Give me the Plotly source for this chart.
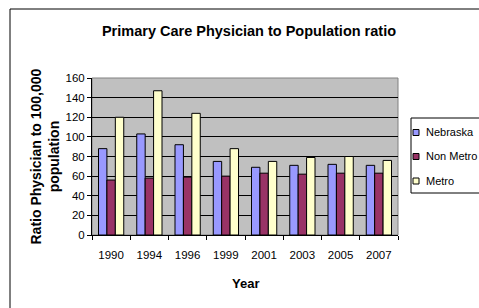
import plotly.graph_objects as go

years = ["1990", "1994", "1996", "1999", "2001", "2003", "2005", "2007"]
nebraska = [88, 103, 92, 75, 69, 71, 72, 71]
non_metro = [56, 58, 59, 60, 63, 62, 63, 63]
metro = [120, 147, 124, 88, 75, 79, 80, 76]

series_names = ["Nebraska", "Non Metro", "Metro"]
series_colors = ["#9999FF", "#993366", "#FFFFCC"]
y_ticks = [0, 20, 40, 60, 80, 100, 120, 140, 160]

FONT = "Arial, 'Liberation Sans', sans-serif"

fig = go.Figure()
for name, vals, col in zip(series_names, [nebraska, non_metro, metro], series_colors):
    fig.add_trace(go.Bar(
        x=years, y=vals, name=name,
        marker=dict(color=col, line=dict(color="black", width=1)),
    ))

W, H = 479, 308
L, R, T, B = 92, 81, 78, 73
pw, ph = W - L - R, H - T - B

def px_x(x):
    return (x - L) / pw

def px_y(y):
    return (H - B - y) / ph

shapes = [
    # outer chart border
    dict(type="rect", xref="paper", yref="paper",
         x0=px_x(10), x1=px_x(490), y0=px_y(320), y1=px_y(9),
         line=dict(color="black", width=1), fillcolor="rgba(0,0,0,0)", layer="below"),
    # plot area border
    dict(type="rect", xref="paper", yref="paper",
         x0=0, x1=1, y0=0, y1=1,
         line=dict(color="#808080", width=1), fillcolor="rgba(0,0,0,0)", layer="below"),
    # legend box
    dict(type="rect", xref="paper", yref="paper",
         x0=px_x(411), x1=px_x(495), y0=px_y(193), y1=px_y(118),
         line=dict(color="black", width=1), fillcolor="white", layer="above"),
]
annotations = [
    dict(text="<b>Ratio Physician to 100,000<br>population</b>",
         xref="paper", yref="paper", x=px_x(44), y=0.5,
         xanchor="center", yanchor="middle", textangle=-90,
         showarrow=False, font=dict(size=14, family=FONT)),
    dict(text="<b>Year</b>",
         xref="paper", yref="paper", x=px_x(245.5), y=px_y(283),
         xanchor="center", yanchor="middle",
         showarrow=False, font=dict(size=13, family=FONT)),
]
legend_y = [132, 156, 180.5]
for name, col, ly in zip(series_names, series_colors, legend_y):
    shapes.append(dict(type="rect", xref="paper", yref="paper",
                       x0=px_x(413), x1=px_x(419), y0=px_y(ly + 3.5), y1=px_y(ly - 2.5),
                       line=dict(color="black", width=1), fillcolor=col, layer="above"))
    annotations.append(dict(text=name, xref="paper", yref="paper",
                            x=px_x(424), y=px_y(ly), xanchor="left", yanchor="middle",
                            showarrow=False, font=dict(size=11, family=FONT)))

fig.update_layout(
    width=W, height=H,
    margin=dict(l=L, r=R, t=T, b=B, pad=0, autoexpand=False),
    paper_bgcolor="white",
    plot_bgcolor="#C0C0C0",
    barmode="group",
    bargap=0.34,
    bargroupgap=0,
    font=dict(family=FONT, size=11.5, color="black"),
    showlegend=False,
    title=dict(
        text="<b>Primary Care Physician to Population ratio</b>",
        x=px_x(249), xref="paper", xanchor="center",
        y=1 - 30.5 / H, yref="container", yanchor="middle",
        font=dict(size=14.5, family=FONT),
    ),
    xaxis=dict(
        type="category",
        showline=True, linecolor="black", linewidth=1,
        ticks="outside", ticklen=4, tickcolor="black",
        tickson="boundaries",
        tickangle=0,
        ticklabelstandoff=9,
        showgrid=False,
        tickfont=dict(size=11.5),
    ),
    yaxis=dict(
        range=[0, 160],
        tickvals=y_ticks,
        showline=True, linecolor="black", linewidth=1,
        ticks="outside", ticklen=4, tickcolor="black",
        showgrid=True, gridcolor="black", gridwidth=1,
        zeroline=False,
        tickfont=dict(size=11.5),
    ),
    shapes=shapes,
    annotations=annotations,
)

fig.write_html("out.html", config={"displayModeBar": False},
               post_script="document.body.style.margin='0';document.body.style.overflow='hidden';")
